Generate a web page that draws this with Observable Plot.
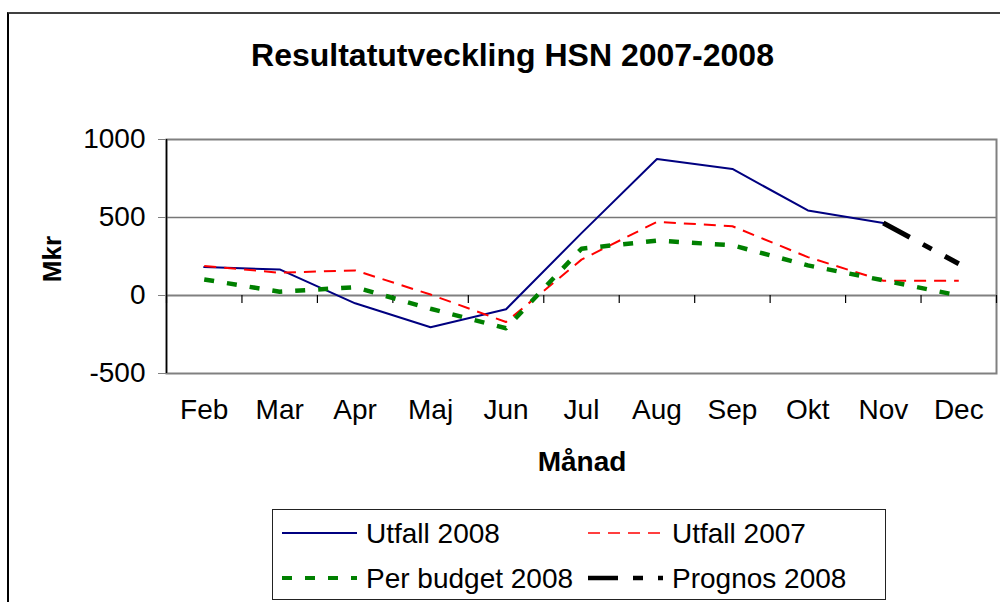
<!DOCTYPE html>
<html>
<head>
<meta charset="utf-8">
<script src="https://cdn.jsdelivr.net/npm/d3@7"></script>
<script src="https://cdn.jsdelivr.net/npm/@observablehq/plot@0.6"></script>
<style>
  body { margin: 0; background: #fff; font-family: "Liberation Sans", Arial, sans-serif; }
  #wrap { position: relative; width: 1000px; height: 602px; overflow: hidden; background: #fff; }
  #border { position: absolute; left: 7px; top: 12px; width: 1100px; height: 700px;
            border-top: 2px solid #404040; border-left: 2px solid #000; box-sizing: border-box; }
  #title { position: absolute; left: 0; width: 1025px; top: 39px; text-align: center;
           font-weight: bold; font-size: 32px; line-height: 32px; white-space: nowrap; }
  #chart { position: absolute; left: 0; top: 100px; }
  #ylab { position: absolute; left: 52px; top: 259px; transform: translate(-50%, -50%) rotate(-90deg);
          font-weight: bold; font-size: 26px; white-space: nowrap; }
  #xlab { position: absolute; left: 582px; top: 462px; transform: translate(-50%, -50%);
          font-weight: bold; font-size: 28px; white-space: nowrap; }
  #legend { position: absolute; left: 272px; top: 509px; }
</style>
</head>
<body>
<div id="wrap">
  <div id="border"></div>
  <div id="title">Resultatutveckling HSN 2007-2008</div>
  <div id="chart"></div>
  <div id="ylab">Mkr</div>
  <div id="xlab">Månad</div>
  <div id="legend"></div>
</div>
<script>
// ---- data ----
const months = ["Feb", "Mar", "Apr", "Maj", "Jun", "Jul", "Aug", "Sep", "Okt", "Nov", "Dec"];
const utfall2008  = [182, 167, -50, -204, -88, 400, 875, 811, 545, 465, null];
const utfall2007  = [189, 146, 161, 6, -170, 230, 472, 444, 246, 95, 95];
const budget2008  = [103, 24, 53, -85, -210, 300, 352, 322, 193, 97, 0];
const prognos2008 = [null, null, null, null, null, null, null, null, null, 465, 204];
const seriesNames = ["Utfall 2008", "Utfall 2007", "Per budget 2008", "Prognos 2008"];
const seriesValues = [utfall2008, utfall2007, budget2008, prognos2008];
const yTicks = [-500, 0, 500, 1000];

// ---- styles ----
const styles = {
  "Utfall 2008":     {stroke: "#000080", strokeWidth: 2,   dash: null,          legendWidth: 2},
  "Utfall 2007":     {stroke: "#FF0000", strokeWidth: 2,   dash: "12,8",        legendWidth: 1.6},
  "Per budget 2008": {stroke: "#008000", strokeWidth: 4.5, dash: "10,13",       legendWidth: 4},
  "Prognos 2008":    {stroke: "#000000", strokeWidth: 5,   dash: "30,15,10,15", legendWidth: 4.5}
};

const rows = [];
seriesNames.forEach((name, k) => {
  seriesValues[k].forEach((v, i) => {
    if (v != null) rows.push({series: name, month: months[i], i: i + 0.5, value: v});
  });
});

const font = '"Liberation Sans", Arial, sans-serif';

const lineMarks = seriesNames.map(name => {
  const s = styles[name];
  return Plot.line(rows.filter(d => d.series === name), {
    x: "i", y: "value",
    stroke: s.stroke, strokeWidth: s.strokeWidth,
    strokeDasharray: s.dash || undefined,
    strokeLinecap: s.dash ? "butt" : "round",
    strokeLinejoin: "round"
  });
});

const chart = Plot.plot({
  width: 1000,
  height: 390,
  marginLeft: 166,
  marginRight: 4,
  marginTop: 39,
  marginBottom: 117,
  style: {fontFamily: font, fontSize: "28px", color: "#000", background: "transparent", overflow: "visible"},
  x: {type: "linear", domain: [0, months.length]},
  y: {domain: [-500, 1000]},
  marks: [
    Plot.ruleY([500], {stroke: "#777", strokeWidth: 1.3}),
    Plot.frame({stroke: "#808080", strokeWidth: 2}),
    Plot.ruleY([0], {stroke: "#808080", strokeWidth: 2}),
    Plot.ruleX(d3.range(months.length + 1), {x: d => d, y1: () => 0, y2: () => 0, insetTop: 0, insetBottom: -8, stroke: "#000", strokeWidth: 1.2}),
    Plot.ruleX([0], {stroke: "#000", strokeWidth: 1.5}),
    Plot.axisY({ticks: yTicks, tickSize: 8, tickPadding: 13, fontSize: 28, stroke: "#808080", fill: "#000", label: null, tickFormat: d => String(d)}),
    Plot.axisX({ticks: months.map((m, i) => i + 0.5), tickFormat: d => months[Math.floor(d)], tickSize: 0, tickPadding: 26, fontSize: 28, fill: "#000", label: null}),
    ...lineMarks
  ]
});
document.getElementById("chart").appendChild(chart);

// ---- legend ----
const lw = 614, lh = 91;
const leg = d3.create("svg").attr("width", lw).attr("height", lh)
  .style("font-family", font).style("display", "block");
leg.append("rect").attr("x", 0.5).attr("y", 0.5).attr("width", lw - 1).attr("height", lh - 1)
  .attr("fill", "#fff").attr("stroke", "#222").attr("stroke-width", 1);
seriesNames.forEach((name, k) => {
  const s = styles[name];
  const col = k % 2, row = Math.floor(k / 2);
  const x0 = 10 + col * 306, y0 = 24 + row * 45;
  leg.append("line").attr("x1", x0).attr("x2", x0 + 75).attr("y1", y0).attr("y2", y0)
    .attr("stroke", s.stroke).attr("stroke-width", s.legendWidth)
    .attr("stroke-dasharray", s.dash).attr("stroke-linecap", "butt");
  leg.append("text").attr("x", x0 + 84).attr("y", y0).attr("dy", "0.36em")
    .attr("font-size", 28).attr("fill", "#000").text(name);
});
document.getElementById("legend").appendChild(leg.node());
</script>
</body>
</html>
